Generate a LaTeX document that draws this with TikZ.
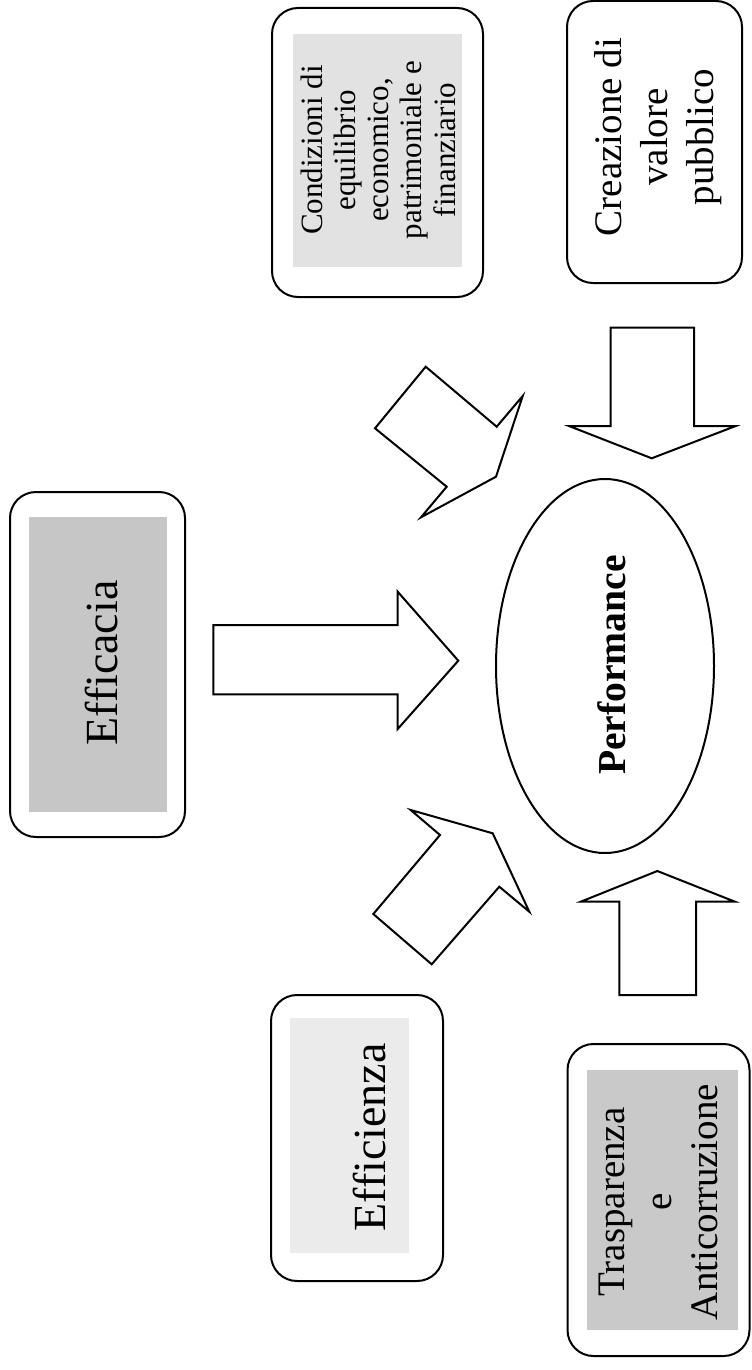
\documentclass[tikz,border=0pt]{standalone}
\usepackage{fontspec}
\setmainfont{Liberation Serif}
\usepackage{graphicx}
\usetikzlibrary{shapes.geometric}
\definecolor{grayA}{HTML}{C6C6C6}
\definecolor{grayT}{HTML}{C9C9C9}
\definecolor{grayC}{HTML}{E2E2E2}
\definecolor{grayE}{HTML}{EBEBEB}
\begin{document}
\begin{tikzpicture}[x=0.5pt,y=-0.5pt,
  box/.style={draw, line width=1pt, rounded corners=13pt, rectangle, inner sep=0pt},
  txt/.style={rotate=90, align=center, inner sep=0pt, text=black},
  blockarrow/.style={draw, line width=1pt, fill=white, line join=miter}]
\useasboundingbox (0,0) rectangle (751,1370);
% boxes
\node[box, minimum width=105.5pt, minimum height=144.5pt] (cond) at (377.5,152.5) {};
\fill[grayC] (293,34) rectangle (462,267);
\node[txt, font={\fontsize{15.5}{16.6}\selectfont}] (condT) at (378,150) {Condizioni di\\equilibrio\\economico,\\patrimoniale e\\finanziario};

\node[box, minimum width=87.5pt, minimum height=141pt] (crea) at (654.5,142) {};
\node[txt, font={\fontsize{19.5}{23}\selectfont}] (creaT) at (658.5,137) {Creazione di\\valore\\pubblico};

\node[box, minimum width=87.5pt, minimum height=172.5pt] (effa) at (97.5,664.5) {};
\fill[grayA] (28.7,516.7) rectangle (166.7,811.7);
\node[txt, font={\fontsize{23}{27}\selectfont}] (effaT) at (102,663) {Efficacia};

\node[box, minimum width=86pt, minimum height=143pt] (effi) at (357,1138) {};
\fill[grayE] (290,1018) rectangle (409,1253);
\node[txt, font={\fontsize{23}{27}\selectfont}] (effiT) at (369.5,1137.5) {Efficienza};

\node[box, minimum width=91pt, minimum height=156pt] (tras) at (658.5,1200) {};
\fill[grayT] (586.7,1070) rectangle (737.5,1330);
\node[txt, font={\fontsize{19.5}{23.25}\selectfont}] (trasT) at (658.5,1202) {Trasparenza\\e\\Anticorruzione};

% ellipse
\node[draw, line width=1pt, ellipse, minimum width=109pt, minimum height=187pt, inner sep=0pt] (perf) at (605,666) {};
\node[txt, font={\fontsize{19.8}{23}\selectfont\bfseries}] (perfT) at (611.5,665) {Performance};

% block arrows
\draw[blockarrow] (213.3,625) -- (397.7,625) -- (397.7,591.7) -- (458.3,660.7) -- (397.7,729) -- (397.7,694.3) -- (213.3,694.3) -- cycle;
\draw[blockarrow] (610.7,327.7) -- (694,327.7) -- (694,426) -- (735.7,426) -- (651.7,458.3) -- (569,426) -- (610.7,426) -- cycle;
\draw[blockarrow] (619.3,995) -- (619.3,901.7) -- (580.7,901.7) -- (657.3,871) -- (735,901.7) -- (696,901.7) -- (696,995) -- cycle;
\draw[blockarrow] (425.7,366.7) -- (496.7,426.7) -- (522.7,396) -- (496,476.7) -- (421,517.3) -- (446.7,486.7) -- (375,428.3) -- cycle;
\draw[blockarrow] (410.7,810) -- (440,835) -- (373.3,914) -- (431.7,964.3) -- (499.3,886.7) -- (529.3,911.7) -- (492.7,833.3) -- cycle;
\end{tikzpicture}
\end{document}
